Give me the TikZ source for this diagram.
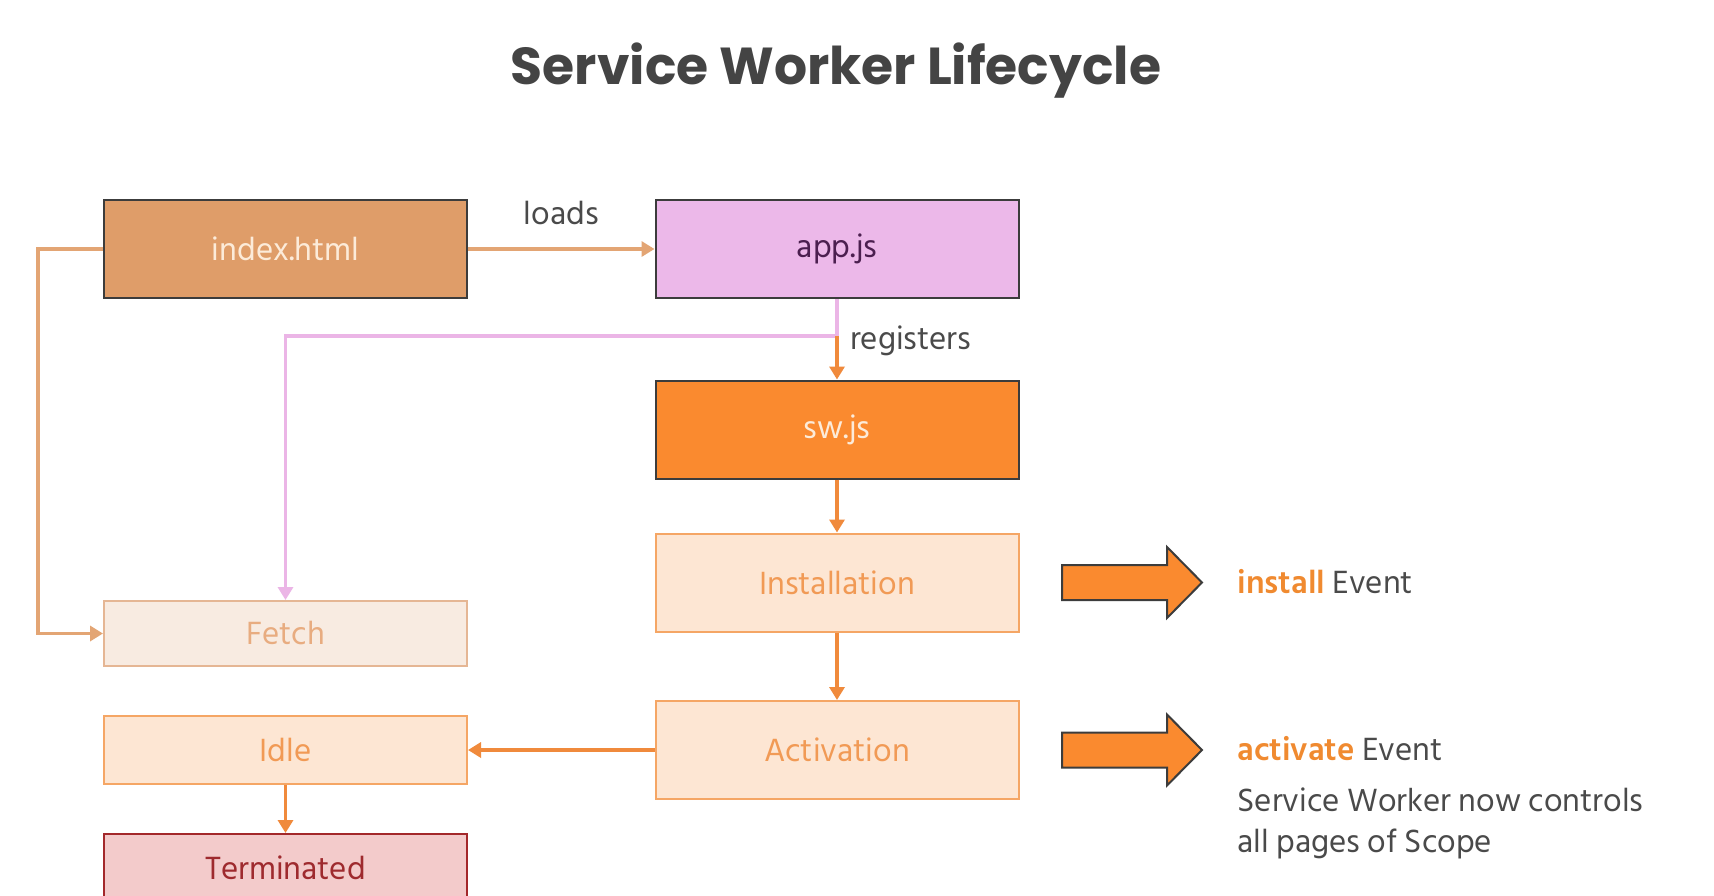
\documentclass[tikz,border=0pt]{standalone}
\usepackage{fontspec}
\setmainfont{Hind Siliguri}
\newfontfamily\titlefont{Poppins}
\usetikzlibrary{arrows.meta}

\definecolor{titlegray}{HTML}{444444}
\definecolor{textgray}{HTML}{4A4A4A}
\definecolor{boxline}{HTML}{3C3C3C}
\definecolor{indexfill}{HTML}{DF9D69}
\definecolor{appfill}{HTML}{ECB8E9}
\definecolor{apptext}{HTML}{4B1F4F}
\definecolor{swfill}{HTML}{FA8A2F}
\definecolor{lighttext}{HTML}{FCEBD9}
\definecolor{stagefill}{HTML}{FDE6D3}
\definecolor{stageline}{HTML}{F5A665}
\definecolor{stagetext}{HTML}{F19A55}
\definecolor{fetchfill}{HTML}{F8EBE1}
\definecolor{fetchline}{HTML}{E5B694}
\definecolor{fetchtext}{HTML}{E8AC80}
\definecolor{termfill}{HTML}{F3CBCB}
\definecolor{termline}{HTML}{A3282B}
\definecolor{termtext}{HTML}{9E2A2E}
\definecolor{tanline}{HTML}{E3A574}
\definecolor{pinkline}{HTML}{EBB5E6}
\definecolor{flowline}{HTML}{F08A3C}
\definecolor{evorange}{HTML}{F08A30}

\newcommand\bodysize{\fontsize{33}{41}\selectfont}

\tikzset{
  box/.style={draw=boxline, line width=2pt, minimum width=363pt,
    minimum height=98pt, font=\bodysize},
  stagebox/.style={box, draw=stageline, fill=stagefill, text=stagetext},
  flow/.style={line width=3.5pt, -{Triangle[length=13pt,width=15pt]}},
  bigarrow/.style={draw=boxline, line width=2pt, fill=swfill, line join=miter},
}

\begin{document}
\begin{tikzpicture}[x=1pt, y=-1pt]
    \clip (0,0) rectangle (1714,895);
    \fill[white] (0,0) rectangle (1714,895);
    % Title
    \node[font=\titlefont\bfseries\fontsize{52}{62}\selectfont, text=titlegray]
    (title) at (836,71) {Service Worker Lifecycle};
    % Define node positions
    \node[box, fill=indexfill, text=lighttext] (index) at (285.5,249) {index.html};
    \node[box, fill=appfill, text=apptext] (app) at (837,249) {app.js};
    \node[box, fill=swfill, text=lighttext] (sw) at (837,429.5) {sw.js};
    \node[stagebox] (install) at (837,582.5) {Installation};
    \node[stagebox] (activate) at (837,750) {Activation};
    \node[box, minimum height=65pt, draw=fetchline, fill=fetchfill,
    text=fetchtext] (fetch) at (285.5,633.5) {Fetch};
    \node[stagebox, minimum height=68pt] (idle) at (285.5,750) {Idle};
    \node[box, minimum height=68pt, draw=termline, fill=termfill,
    text=termtext] (term) at (285.5,868) {Terminated};
    \coordinate (split) at (837,336);
    % Draw arrows
    \draw[flow, tanline] (index) -- (app) node[midway, above=19pt,
    font=\bodysize, text=textgray] {loads};
    \draw[flow, tanline] (index.west) -- ++(-65,0) |- (fetch.west);
    \draw[line width=3.5pt, pinkline] (app.south) -- (split);
    \draw[flow, pinkline] (split) -| (fetch.north);
    \draw[flow, flowline] (split) -- (sw.north) node[pos=0, right=8pt,
    yshift=-5pt, font=\bodysize, text=textgray] {registers};
    \draw[flow, flowline] (sw) -- (install);
    \draw[flow, flowline] (install) -- (activate);
    \draw[flow, flowline] (activate) -- (idle);
    \draw[flow, flowline] (idle) -- (term);
    % Event arrows
    \draw[bigarrow] (1062,565) -- (1167,565) -- (1167,547) -- (1202,582.5)
    -- (1167,618) -- (1167,600) -- (1062,600) -- cycle;
    \draw[bigarrow] (1062,732.5) -- (1167,732.5) -- (1167,714.5) -- (1202,750)
    -- (1167,785.5) -- (1167,767.5) -- (1062,767.5) -- cycle;
    \node[anchor=west, font=\bodysize, text=textgray] (installev) at (1234,582)
    {\textcolor{evorange}{\bfseries install} Event};
    \node[anchor=west, font=\bodysize, text=textgray] (activateev) at (1234,749)
    {\textcolor{evorange}{\bfseries activate} Event};
    \node[anchor=north west, align=left, font=\bodysize, text=textgray] (scope)
    at (1234,784) {Service Worker now controls\\all pages of Scope};
\end{tikzpicture}
\end{document}
